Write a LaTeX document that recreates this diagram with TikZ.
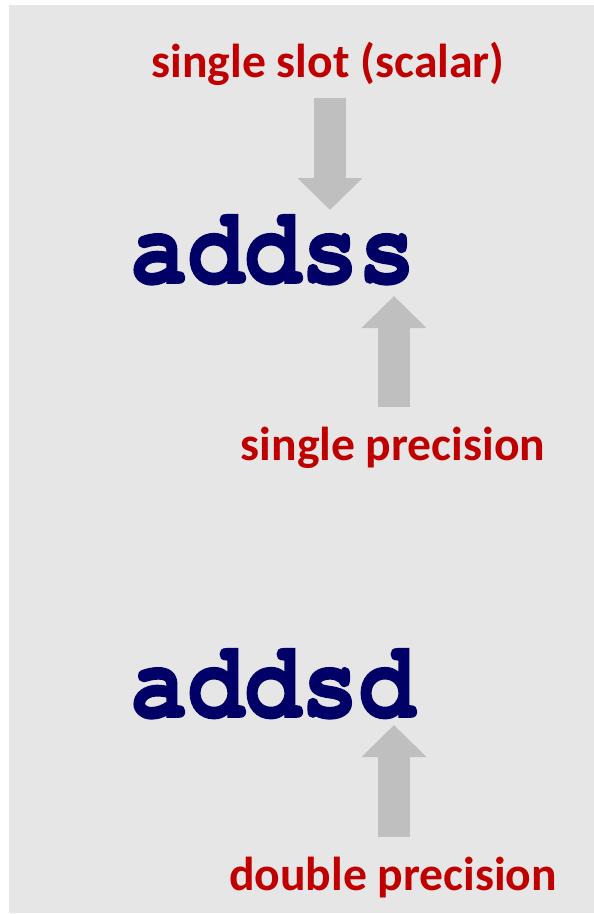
\documentclass[tikz,border=0pt]{standalone}
\usepackage{fontspec}
\usepackage{xcolor}
\usetikzlibrary{arrows.meta}
\newfontfamily\labelfont{Carlito}
\newfontfamily\codefont[BoldFeatures={FakeBold=1.6}]{TeX Gyre Cursor}
\newcommand\tallop[1]{\scalebox{1}[1.15]{#1}}
\definecolor{notered}{HTML}{C00000}
\definecolor{opnavy}{HTML}{000066}
\definecolor{pointgray}{HTML}{BFBFBF}
\definecolor{panelgray}{HTML}{E6E6E6}
\tikzset{note/.style = {inner sep=0pt,anchor=base,text=notered,font=\labelfont\bfseries\fontsize{47.6}{50}\selectfont},
         opcode/.style = {inner sep=0pt,anchor=base west,text=opnavy,font=\codefont\bfseries\fontsize{95}{100}\selectfont},
         pointer/.style = {draw=pointgray,line width=32pt,-{Triangle[width=63pt,length=32pt]}}}

\begin{document}
\begin{tikzpicture}[x=1pt,y=-1pt]
                    \useasboundingbox (0,0) rectangle (594,914);
                    \fill[panelgray] (9,5) rectangle (594,913);

                    \node [note] (slot) at (328,77) {single slot (scalar)};
                    \node [opcode] (ss) at (130,283) {\tallop{addss}};
                    \node [note] (sprec) at (393,460) {single precision};
                    \node [opcode] (sd) at (130,717) {\tallop{addsd}};
                    \node [note] (dprec) at (393,890) {double precision};

                    \coordinate (a1) at (330,98);
                    \coordinate (b1) at (330,210);
                    \coordinate (a2) at (394,407);
                    \coordinate (b2) at (394,296);
                    \coordinate (a3) at (394,837);
                    \coordinate (b3) at (394,725);

                    \draw [pointer] (a1) to (b1);
                    \draw [pointer] (a2) to (b2);
                    \draw [pointer] (a3) to (b3);
                \end{tikzpicture}
\end{document}
